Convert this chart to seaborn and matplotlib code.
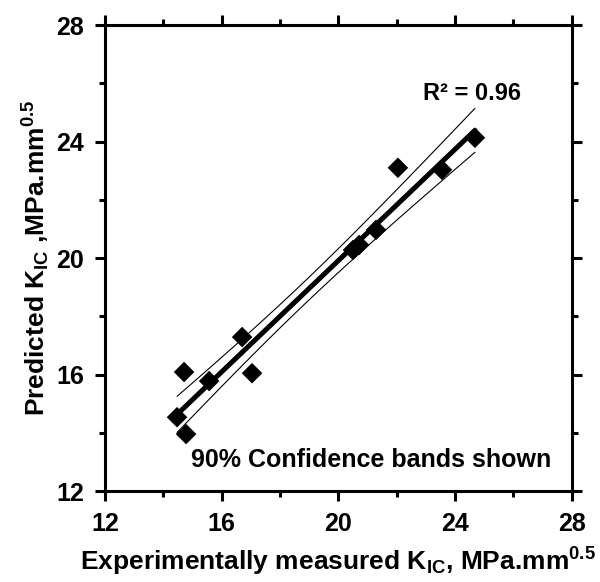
import numpy as np
import pandas as pd
import matplotlib
matplotlib.use("Agg")
import matplotlib.pyplot as plt
import seaborn as sns
from matplotlib.ticker import MultipleLocator

# datos
medido = [14.47, 14.78, 14.71, 15.57, 16.70, 17.04, 20.50, 20.71, 21.29, 22.04, 23.55, 24.68]
predicho = [14.54, 13.96, 16.09, 15.78, 17.29, 16.05, 20.28, 20.45, 20.97, 23.10, 23.03, 24.13]
ticks = [12, 16, 20, 24, 28]

df = pd.DataFrame({"medido": medido, "predicho": predicho})

negro = {"axes.edgecolor": "black", "text.color": "black", "axes.labelcolor": "black",
         "xtick.color": "black", "ytick.color": "black"}
sns.set_style("ticks", negro)
plt.rcParams["font.family"] = ["Liberation Sans", "DejaVu Sans"]
plt.rcParams["font.weight"] = "bold"
plt.rcParams["mathtext.fontset"] = "custom"
plt.rcParams["mathtext.rm"] = "Liberation Sans:bold"
plt.rcParams["mathtext.it"] = "Liberation Sans:bold"
plt.rcParams["mathtext.bf"] = "Liberation Sans:bold"

# ajuste lineal y bandas de confianza del 90%
x = df["medido"].values
y = df["predicho"].values
n = len(x)
b, a = np.polyfit(x, y, 1)
yhat = a + b * x
s = np.sqrt(np.sum((y - yhat) ** 2) / (n - 2))
t90 = 1.812  # t(0.95, 10 g.l.)
xs = np.linspace(x.min(), x.max(), 100)
ys = a + b * xs
se = s * np.sqrt(1 / n + (xs - x.mean()) ** 2 / np.sum((x - x.mean()) ** 2))
banda = pd.DataFrame({"x": xs, "fit": ys, "sup": ys + t90 * se, "inf": ys - t90 * se})

fig, ax = plt.subplots(figsize=(6, 5.82), dpi=100)
fig.subplots_adjust(left=0.175, right=0.953, bottom=0.156, top=0.957)

sns.lineplot(data=banda, x="x", y="sup", color="black", linewidth=0.8, ax=ax)
sns.lineplot(data=banda, x="x", y="inf", color="black", linewidth=0.8, ax=ax)
sns.lineplot(data=banda, x="x", y="fit", color="black", linewidth=3.6, ax=ax)
sns.scatterplot(data=df, x="medido", y="predicho", marker="D", s=110,
                color="black", edgecolor="none", ax=ax, zorder=5)

ax.set_xlim(12, 28)
ax.set_ylim(12, 28)
ax.set_xticks(ticks)
ax.set_yticks(ticks)
ax.xaxis.set_minor_locator(MultipleLocator(2))
ax.yaxis.set_minor_locator(MultipleLocator(2))
ax.tick_params(which="both", direction="out", width=2.2, top=True, right=True,
               labelsize=18, pad=8)
ax.tick_params(which="major", length=7)
ax.tick_params(which="minor", length=4)
for sp in ax.spines.values():
    sp.set_linewidth(2.2)
    sp.set_visible(True)

ax.set_xlabel(r"Experimentally measured K$_{IC}$, MPa.mm$^{0.5}$", fontsize=19,
              fontweight="bold", labelpad=7)
ax.set_ylabel(r"Predicted K$_{IC}$ ,MPa.mm$^{0.5}$", fontsize=19,
              fontweight="bold", labelpad=3)

r2 = 1 - np.sum((y - yhat) ** 2) / np.sum((y - y.mean()) ** 2)
ax.text(24.58, 25.26, "R\u00b2 = %.2f" % r2, fontsize=17, fontweight="bold",
        ha="center", va="bottom")
ax.text(21.12, 13.07, "90% Confidence bands shown", fontsize=18, fontweight="bold",
        ha="center", va="center")

plt.savefig("out.png", dpi=100)
